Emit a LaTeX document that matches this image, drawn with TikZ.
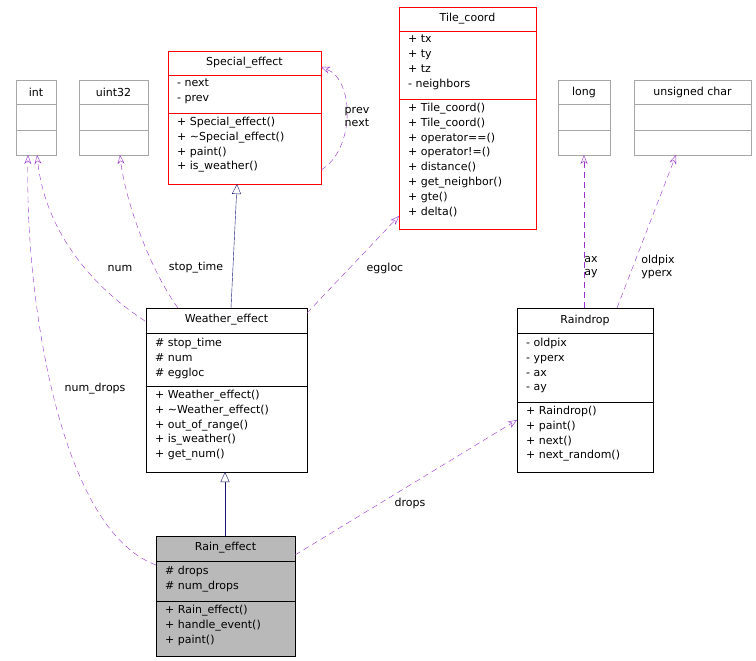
\documentclass[tikz,border=0pt]{standalone}
\usepackage{fontspec}
\setmainfont{DejaVu Sans}
\usetikzlibrary{arrows.meta}
\definecolor{dep}{RGB}{153,51,204}
\definecolor{inh}{RGB}{25,25,112}
\tikzset{
 box/.style={draw, anchor=north west, inner sep=0pt, line width=0.6pt},
 ttl/.style={font=\fontsize{11}{13}\selectfont, inner sep=0pt},
 mem/.style={font=\fontsize{11}{14.8}\selectfont, anchor=north west, align=left, inner sep=0pt},
 use/.style={draw=dep, dashed, dash pattern=on 6pt off 4pt, -{Stealth[open,length=9pt,width=7pt]}},
 gen/.style={draw=inh, -{Triangle[open,length=10pt,width=9pt]}},
 lab/.style={font=\fontsize{11}{13}\selectfont, align=left, inner sep=0pt}
}
\newcommand{\classbox}[8]{% name, x, y, w, h, col, y1, y2
 \node[box, draw=#6, minimum width=#4pt, minimum height=#5pt] (#1) at (#2,#3) {};
 \draw[#6, line width=0.6pt] (#2,#7) -- ++(#4,0);
 \draw[#6, line width=0.6pt] (#2,#8) -- ++(#4,0);
}
\begin{document}
\begin{tikzpicture}[x=1pt,y=-1pt]
\useasboundingbox (0,0) rectangle (756,661);
% classes
\classbox{int}{16}{80}{40}{75}{gray!70}{104}{130}
\node[ttl] (intT) at (36,92) {int};
\classbox{u32}{79}{80}{69}{75}{gray!70}{104}{130}
\node[ttl] (u32T) at (113.5,92) {uint32};
\classbox{lng}{558}{80}{52}{75}{gray!70}{104}{130}
\node[ttl] (lngT) at (584,92) {long};
\classbox{uch}{634}{80}{117}{75}{gray!70}{104}{130}
\node[ttl] (uchT) at (692.5,92) {unsigned char};

\classbox{se}{168}{51}{153}{133}{red}{75}{113}
\node[ttl] (seT) at (244.5,63) {Special\_effect};
\node[mem] (seA) at (177,79) {- next\\- prev};
\node[mem] (seM) at (177,117) {+ Special\_effect()\\+ \textasciitilde Special\_effect()\\+ paint()\\+ is\_weather()};

\classbox{tc}{399}{7}{137}{222}{red}{31}{99}
\node[ttl] (tcT) at (467.5,19) {Tile\_coord};
\node[mem] (tcA) at (408,35) {+ tx\\+ ty\\+ tz\\- neighbors};
\node[mem] (tcM) at (408,103) {+ Tile\_coord()\\+ Tile\_coord()\\+ operator==()\\+ operator!=()\\+ distance()\\+ get\_neighbor()\\+ gte()\\+ delta()};

\classbox{we}{146}{308}{161}{164}{black}{333}{386}
\node[ttl] (weT) at (226.5,320) {Weather\_effect};
\node[mem] (weA) at (155,338) {\# stop\_time\\\# num\\\# eggloc};
\node[mem] (weM) at (155,390) {+ Weather\_effect()\\+ \textasciitilde Weather\_effect()\\+ out\_of\_range()\\+ is\_weather()\\+ get\_num()};

\classbox{rd}{517}{308}{136}{164}{black}{333}{402}
\node[ttl] (rdT) at (585,320) {Raindrop};
\node[mem] (rdA) at (526,338) {- oldpix\\- yperx\\- ax\\- ay};
\node[mem] (rdM) at (526,406) {+ Raindrop()\\+ paint()\\+ next()\\+ next\_random()};

\node[box, fill=gray!55, minimum width=139pt, minimum height=120pt] (re) at (156,536) {};
\draw[line width=0.6pt] (156,561) -- ++(139,0) (156,601) -- ++(139,0);
\node[ttl] (reT) at (225.5,548) {Rain\_effect};
\node[mem] (reA) at (165,566) {\# drops\\\# num\_drops};
\node[mem] (reM) at (165,605) {+ Rain\_effect()\\+ handle\_event()\\+ paint()};

% inheritance
\draw[gen] (231,308) -- (237,184);
\draw[gen] (225,536) -- (225,472);
% usage
\draw[use] (145,321) .. controls (90,285) and (45,230) .. (37,155);
\node[lab] (l1) at (120,268) {num};
\draw[use] (178,308) .. controls (150,270) and (125,200) .. (120,155);
\node[lab] (l2) at (196,268) {stop\_time};
\draw[use] (307,313) -- (399,216);
\node[lab] (l3) at (385,268) {eggloc};
\draw[use] (321,170) .. controls (355,150) and (355,80) .. (321,67);
\node[lab] (l4) at (357,117) {prev\\next};
\draw[use] (584,308) -- (584,155);
\node[lab] (l5) at (591,267) {ax\\ay};
\draw[use] (617,308) -- (676,155);
\node[lab] (l6) at (658,267) {oldpix\\yperx};
\draw[use] (156,565) .. controls (60,530) and (25,300) .. (28,155);
\node[lab] (l7) at (95,389) {num\_drops};
\draw[use] (295,555) -- (517,420);
\node[lab] (l8) at (410,503) {drops};
\end{tikzpicture}
\end{document}
